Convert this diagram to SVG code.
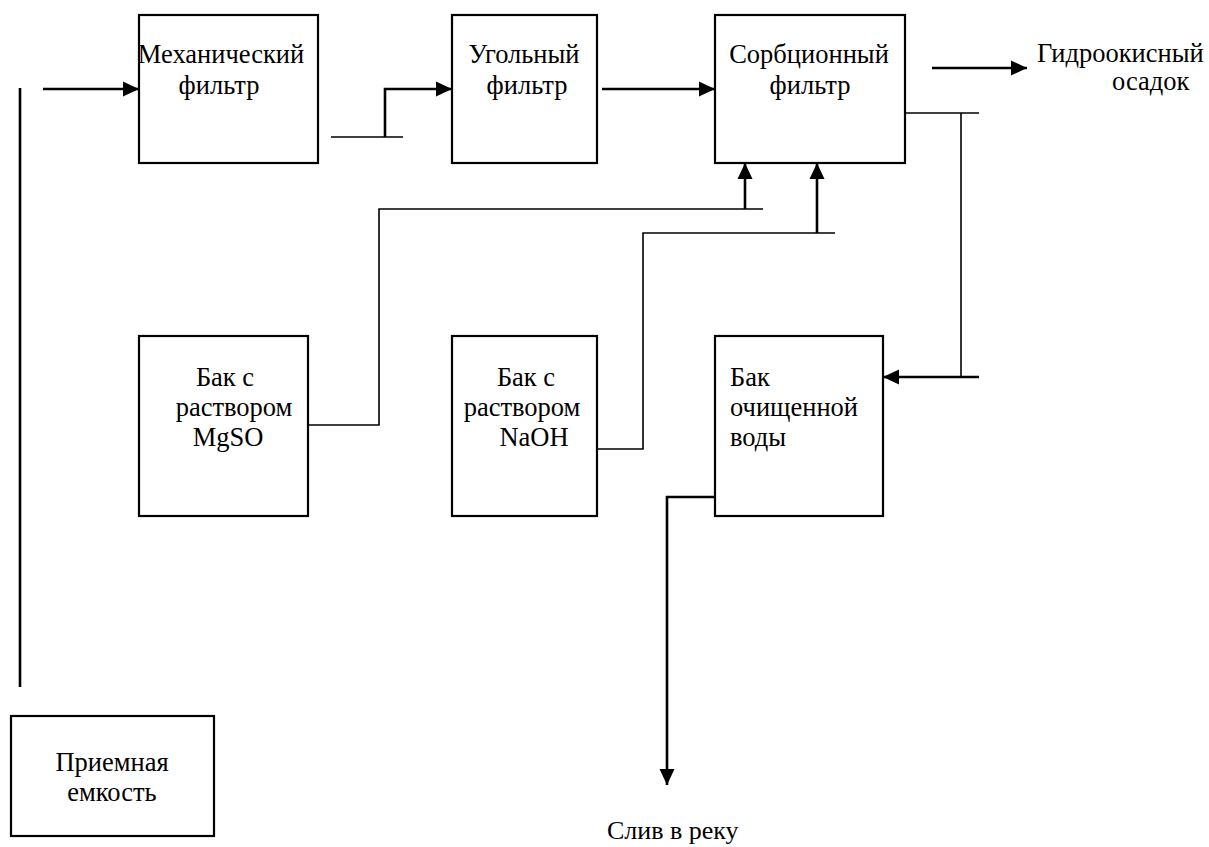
<svg xmlns="http://www.w3.org/2000/svg" width="1209" height="847" viewBox="0 0 1209 847">
<style>
.box{fill:#fff;stroke:#000;stroke-width:2.2}
.t{font-family:"Liberation Serif","Times New Roman","DejaVu Serif",serif;font-size:26.5px;fill:#000}
.m{text-anchor:middle}
.thin{fill:none;stroke:#000;stroke-width:1.6}
.thick{fill:none;stroke:#000;stroke-width:2.6}
</style>
<defs>
<marker id="ah" markerUnits="userSpaceOnUse" markerWidth="16" markerHeight="16" viewBox="0 0 16 16" refX="16" refY="8" orient="auto">
<path d="M0,0.5 L16,8 L0,15.5 Z" fill="#000"/>
</marker>
</defs>
<rect width="1209" height="847" fill="#fff"/>
<g id="connectors">
<line class="thick" x1="20" y1="88" x2="20" y2="687"/>
<line class="thick" x1="43" y1="89" x2="139" y2="89" marker-end="url(#ah)"/>
<line class="thin" x1="331" y1="137" x2="403" y2="137"/>
<polyline class="thick" points="385,137 385,89 452,89" marker-end="url(#ah)"/>
<line class="thick" x1="602" y1="89" x2="715" y2="89" marker-end="url(#ah)"/>
<line class="thick" x1="932" y1="68" x2="1027" y2="68" marker-end="url(#ah)"/>
<line class="thin" x1="889" y1="113" x2="979" y2="113"/>
<line class="thin" x1="961" y1="113" x2="961" y2="377"/>
<line class="thick" x1="979" y1="377" x2="883" y2="377" marker-end="url(#ah)"/>
<polyline class="thin" points="308,425 379,425 379,209 763,209"/>
<line class="thick" x1="745" y1="209" x2="745" y2="163" marker-end="url(#ah)"/>
<polyline class="thin" points="597,449 643,449 643,233 835,233"/>
<line class="thick" x1="817" y1="233" x2="817" y2="163" marker-end="url(#ah)"/>
<polyline class="thick" points="715,497 667,497 667,785" marker-end="url(#ah)"/>
</g>
<g id="mech">
<rect class="box" x="139" y="15" width="179" height="148"/>
<text class="t m" x="221" y="63">Механический</text>
<text class="t m" x="219" y="94">фильтр</text>
</g>
<g id="coal">
<rect class="box" x="452" y="15" width="145" height="148"/>
<text class="t m" x="524" y="63">Угольный</text>
<text class="t m" x="527" y="94">фильтр</text>
</g>
<g id="sorb">
<rect class="box" x="715" y="15" width="190" height="148"/>
<text class="t m" x="809" y="63">Сорбционный</text>
<text class="t m" x="810" y="94">фильтр</text>
</g>
<g id="hydro">
<text class="t" x="1037" y="62">Гидроокисный</text>
<text class="t" x="1112" y="90">осадок</text>
</g>
<g id="mgso">
<rect class="box" x="139" y="336" width="169" height="180"/>
<text class="t m" x="225" y="386">Бак с</text>
<text class="t m" x="234" y="416">раствором</text>
<text class="t m" x="228" y="446">MgSO</text>
</g>
<g id="naoh">
<rect class="box" x="452" y="336" width="145" height="180"/>
<text class="t m" x="526" y="386">Бак с</text>
<text class="t m" x="522" y="416">раствором</text>
<text class="t m" x="534" y="446">NaOH</text>
</g>
<g id="clean">
<rect class="box" x="715" y="336" width="168" height="180"/>
<text class="t" x="730" y="386">Бак</text>
<text class="t" x="730" y="416">очищенной</text>
<text class="t" x="730" y="446">воды</text>
</g>
<g id="drain">
<text class="t" x="607" y="839" style="font-size:26px">Слив в реку</text>
</g>
<g id="priem">
<rect class="box" x="11" y="716" width="203" height="120"/>
<text class="t m" x="112" y="771">Приемная</text>
<text class="t m" x="112" y="801">емкость</text>
</g>
</svg>
